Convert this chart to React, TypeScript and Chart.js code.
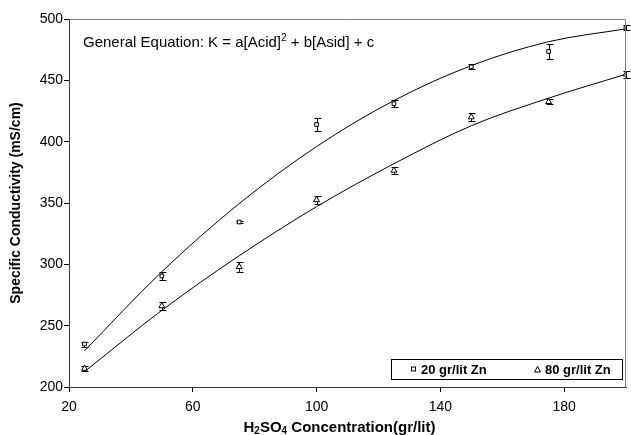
import React, { useEffect, useRef } from "react";
import { Chart, registerables } from "chart.js";

Chart.register(...registerables);

// ---- data ----
const acidConc = [25, 50, 75, 100, 125, 150, 175, 200];
const zn20 = [235, 290.5, 334.5, 414, 431, 461, 473.5, 493];
const zn20Err = [2, 3, 1, 5, 3, 2, 6, 2];
const zn80 = [215, 266, 298, 352.5, 376.5, 420, 432.5, 455];
const zn80Err = [2, 3, 4, 3, 3, 3, 2, 3];
// fitted trend curves at the same acid concentrations
const fit20 = [229.5, 294, 349.5, 396, 433.5, 462, 481.5, 492];
const fit80 = [212.5, 262.5, 307, 347, 382, 413, 435.5, 455];
const xTickValues = [20, 60, 100, 140, 180];
const yTickValues = [200, 250, 300, 350, 400, 450, 500];
const legendLabels = ["20 gr/lit Zn", "80 gr/lit Zn"];
const equationText = "General Equation: K = a[Acid]";
const equationRest = " + b[Asid] + c";
const yTitle = "Specific Conductivity (mS/cm)";

const FONT = "'Liberation Sans', Arial, sans-serif";

const toXY = (xs: number[], ys: number[]) => xs.map((x, i) => ({ x, y: ys[i] }));

const decorPlugin = {
  id: "decor",
  beforeDatasetsDraw(chart: any) {
    const { ctx, scales } = chart;
    const xs = scales.x;
    const ys = scales.y;
    const sets = [
      { vals: zn20, err: zn20Err },
      { vals: zn80, err: zn80Err },
    ];
    ctx.save();
    ctx.strokeStyle = "#000";
    ctx.lineWidth = 1;
    sets.forEach((s) => {
      acidConc.forEach((a, i) => {
        const px = Math.round(xs.getPixelForValue(a)) + 0.5;
        const top = Math.round(ys.getPixelForValue(s.vals[i] + s.err[i])) + 0.5;
        const bot = Math.round(ys.getPixelForValue(s.vals[i] - s.err[i])) + 0.5;
        ctx.beginPath();
        ctx.moveTo(px, top);
        ctx.lineTo(px, bot);
        ctx.moveTo(px - 3, top);
        ctx.lineTo(px + 4, top);
        ctx.moveTo(px - 3, bot);
        ctx.lineTo(px + 4, bot);
        ctx.stroke();
      });
    });
    ctx.restore();
  },
  afterDraw(chart: any) {
    const { ctx, chartArea } = chart;
    const { left, right, top, bottom } = chartArea;
    ctx.save();
    // top & right frame
    ctx.strokeStyle = "#808080";
    ctx.lineWidth = 1;
    ctx.beginPath();
    ctx.moveTo(left, top + 0.5);
    ctx.lineTo(right - 0.5, top + 0.5);
    ctx.lineTo(right - 0.5, bottom);
    ctx.stroke();

    // equation text
    ctx.fillStyle = "#000";
    ctx.textBaseline = "middle";
    ctx.textAlign = "left";
    ctx.font = `15px ${FONT}`;
    let x = left + 14;
    const y = 43;
    ctx.fillText(equationText, x, y);
    x += ctx.measureText(equationText).width;
    ctx.font = `10px ${FONT}`;
    ctx.fillText("2", x, y - 5);
    x += ctx.measureText("2").width;
    ctx.font = `15px ${FONT}`;
    ctx.fillText(equationRest, x, y);

    // legend
    ctx.strokeStyle = "#000";
    ctx.lineWidth = 1;
    const bx = 391.5, by = 359.5, bw = 231, bh = 20;
    ctx.strokeRect(bx, by, bw, bh);
    ctx.font = `bold 13px ${FONT}`;
    ctx.textBaseline = "middle";
    const cy = by + bh / 2;
    // square marker
    ctx.fillStyle = "#fff";
    ctx.fillRect(411, cy - 2, 4, 4);
    ctx.strokeRect(411.5, cy - 2.5, 4, 4);
    ctx.fillStyle = "#000";
    ctx.fillText(legendLabels[0], 421, cy + 0.5);
    // triangle marker
    ctx.beginPath();
    ctx.moveTo(537.5, cy - 3);
    ctx.lineTo(540.5, cy + 2.5);
    ctx.lineTo(534.5, cy + 2.5);
    ctx.closePath();
    ctx.stroke();
    ctx.fillText(legendLabels[1], 545, cy + 0.5);

    // y axis title
    ctx.save();
    ctx.translate(16, (top + bottom) / 2);
    ctx.rotate(-Math.PI / 2);
    ctx.textAlign = "center";
    ctx.font = `bold 14px ${FONT}`;
    ctx.fillText(yTitle, 0, 0);
    ctx.restore();

    // x axis title with subscripts
    const parts: [string, boolean][] = [
      ["H", false],
      ["2", true],
      ["SO", false],
      ["4", true],
      [" Concentration(gr/lit)", false],
    ];
    const big = `bold 15px ${FONT}`;
    const small = `bold 10px ${FONT}`;
    let total = 0;
    parts.forEach(([t, sub]) => {
      ctx.font = sub ? small : big;
      total += ctx.measureText(t).width;
    });
    let tx = (left + right) / 2 - total / 2 - 8;
    const ty = 428;
    ctx.textAlign = "left";
    parts.forEach(([t, sub]) => {
      ctx.font = sub ? small : big;
      ctx.fillText(t, tx, sub ? ty + 3 : ty);
      tx += ctx.measureText(t).width;
    });
    ctx.restore();
  },
};

export default function App() {
  const ref = useRef<HTMLCanvasElement | null>(null);
  useEffect(() => {
    if (!ref.current) return;
    const chart = new Chart(ref.current, {
      type: "scatter",
      data: {
        datasets: [
          {
            label: legendLabels[0],
            data: toXY(acidConc, zn20),
            pointStyle: "rect",
            pointRadius: 2.6,
            pointBackgroundColor: "#fff",
            pointBorderColor: "#000",
            pointBorderWidth: 1,
            showLine: false,
          },
          {
            label: legendLabels[1],
            data: toXY(acidConc, zn80),
            pointStyle: "triangle",
            pointRadius: 3.4,
            pointBackgroundColor: "#fff",
            pointBorderColor: "#000",
            pointBorderWidth: 1,
            showLine: false,
          },
          {
            label: "fit20",
            data: toXY(acidConc, fit20),
            showLine: true,
            pointRadius: 0,
            borderColor: "#000",
            borderWidth: 1,
            cubicInterpolationMode: "monotone",
          },
          {
            label: "fit80",
            data: toXY(acidConc, fit80),
            showLine: true,
            pointRadius: 0,
            borderColor: "#000",
            borderWidth: 1,
            cubicInterpolationMode: "monotone",
          },
        ],
      },
      options: {
        animation: false,
        responsive: false,
        layout: { padding: { top: 19, right: 1, left: 0, bottom: 0 } },
        plugins: {
          legend: { display: false },
          tooltip: { enabled: false },
        },
        scales: {
          x: {
            type: "linear",
            min: 20,
            max: 200,
            afterFit: (s: any) => {
              s.height = 48;
            },
            afterBuildTicks: (s: any) => {
              s.ticks = xTickValues.map((v) => ({ value: v }));
            },
            ticks: {
              font: { family: FONT, size: 14 },
              color: "#000",
              padding: 7,
              maxRotation: 0,
            },
            grid: {
              drawOnChartArea: false,
              drawTicks: true,
              tickLength: 5,
              color: "#000",
            },
            border: { color: "#404040", width: 1 },
          },
          y: {
            type: "linear",
            min: 200,
            max: 500,
            afterFit: (s: any) => {
              s.width = 69;
            },
            afterBuildTicks: (s: any) => {
              s.ticks = yTickValues.map((v) => ({ value: v }));
            },
            ticks: {
              font: { family: FONT, size: 14 },
              color: "#000",
              padding: 1,
            },
            grid: {
              drawOnChartArea: false,
              drawTicks: true,
              tickLength: 5,
              color: "#000",
            },
            border: { color: "#404040", width: 1 },
          },
        },
      },
      plugins: [decorPlugin],
    } as any);
    return () => chart.destroy();
  }, []);
  return (
    <div style={{ position: "fixed", left: 0, top: 0, width: 631, height: 435, background: "#fff" }}>
      <canvas ref={ref} width={631} height={435} />
    </div>
  );
}
